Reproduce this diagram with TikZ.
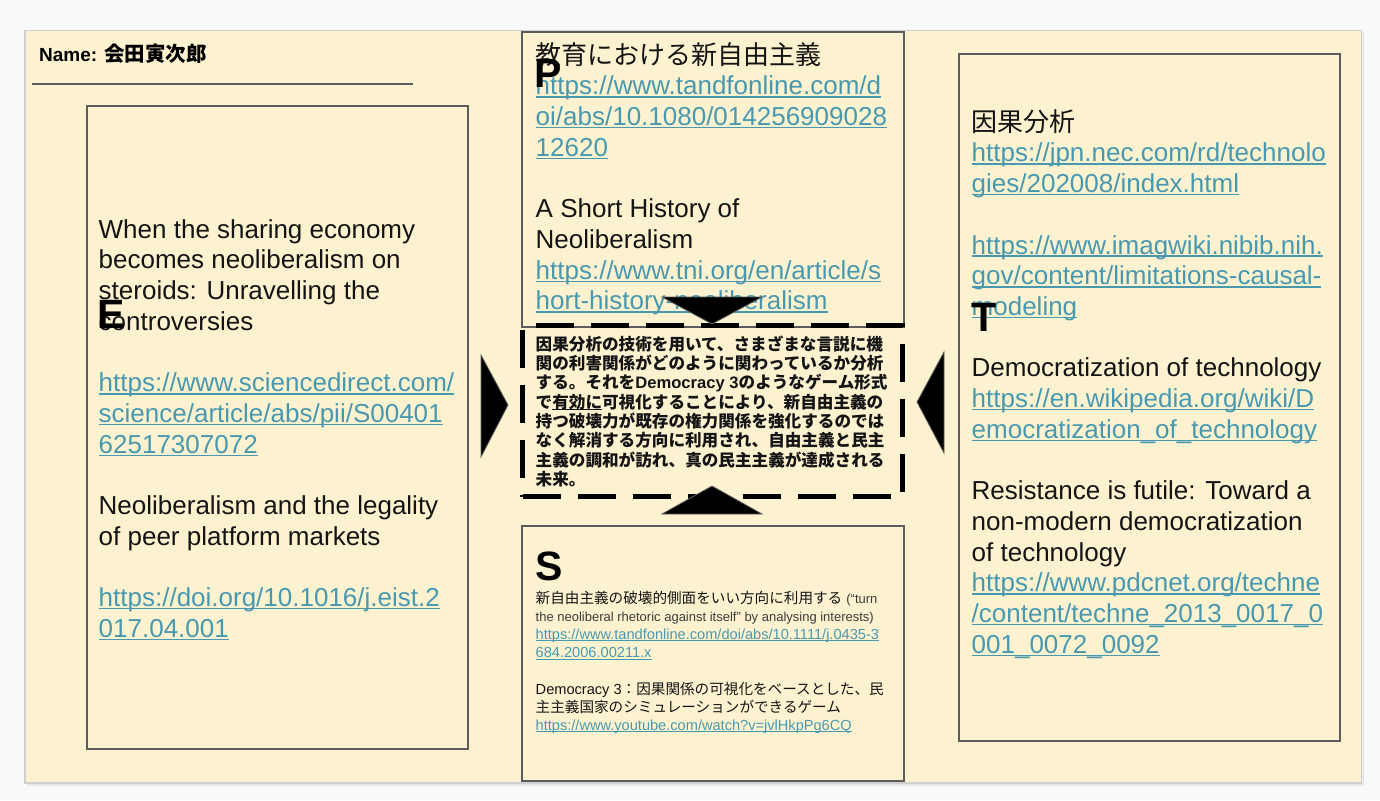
\documentclass[tikz,border=0pt]{standalone}
\usepackage{fontspec}
\setmainfont{Liberation Sans}
\newfontfamily\jpfont{Noto Sans CJK JP}
\newcommand\jj[1]{{\jpfont #1}}
\newcommand\tstr{\rule{0pt}{25pt}}
\newcommand\ulbox[1]{\setbox0=\hbox{#1}\rlap{\rule[-0.11em]{\wd0}{0.055em}}\box0}
\definecolor{linkc}{RGB}{72,153,176}
\definecolor{pagebg}{RGB}{248,249,250}
\definecolor{shadowc}{RGB}{230,231,233}
\definecolor{cream}{RGB}{253,242,208}
\definecolor{creamborder}{RGB}{208,208,208}
\definecolor{boxc}{RGB}{92,92,92}
\definecolor{txtc}{RGB}{20,20,20}
\definecolor{qgray}{RGB}{60,60,60}
\newcommand\lk[1]{{\color{linkc}\ulbox{#1}}}
\newcommand\bigf{\fontsize{26}{30.7}\selectfont\lineskiplimit=-100pt\relax}
\newcommand\midf{\bfseries\fontsize{16.6}{19.3}\selectfont\lineskiplimit=-100pt\relax}
\newcommand\smallf{\fontsize{14.6}{18.2}\selectfont\lineskiplimit=-100pt\relax}
\begin{document}
\begin{tikzpicture}[x=1pt,y=-1pt,
  box/.style={draw=boxc, line width=2pt, inner sep=0pt, anchor=north west},
  dashbox/.style={draw=black, line width=5pt, dash pattern=on 38pt off 17pt, inner sep=0pt, outer sep=0pt, anchor=north west},
  tri/.style={fill=black, draw=boxc, line width=0.8pt, line join=miter},
  txt/.style={anchor=north west, inner sep=0pt, align=left, text=txtc},
  big/.style={txt, font=\bigf},
  mid/.style={txt, font=\midf},
  small/.style={txt, font=\smallf},
  lett/.style={anchor=base west, inner sep=0pt, text=black, font={\bfseries\fontsize{41}{41}\selectfont}}
]
\useasboundingbox (0,0) rectangle (1380,800);
\fill[pagebg] (0,0) rectangle (1380,800);
\fill[shadowc] (26.5,32) rectangle (1364,786);
\draw[draw=creamborder, line width=1.5pt, fill=cream] (25,30.5) rectangle (1361.5,783);

% name and rule
\node[anchor=base west, inner sep=0pt, text=black, font={\bfseries\fontsize{19}{22}\selectfont}] (name) at (39,62) {Name: {\fontsize{20.5}{22}\selectfont\jj{会田寅次郎}}};
\coordinate (ruleA) at (32,84);
\coordinate (ruleB) at (413,84);
\draw[draw=boxc, line width=1.2pt] (ruleA) -- (ruleB);

% boxes
\node[box, minimum width=381pt, minimum height=643pt] (E) at (86,105) {};
\node[box, minimum width=382pt, minimum height=295pt] (P) at (521,31) {};
\node[box, minimum width=381pt, minimum height=687pt] (T) at (958,53) {};
\node[box, minimum width=382pt, minimum height=255pt] (S) at (521,525) {};

% E text
\node[big] (Etext) at (98.5,213) {\tstr When the sharing economy\\
becomes neoliberalism on\\
steroids: Unravelling the\\
controversies\\[30.7pt]
\lk{https://www.sciencedirect.com/}\\
\lk{science/article/abs/pii/S00401}\\
\lk{62517307072}\\[30.7pt]
Neoliberalism and the legality\\
of peer platform markets\\[30.7pt]
\lk{https://doi.org/10.1016/j.eist.2}\\
\lk{017.04.001}};

% P text
\node[big] (Ptext) at (535.5,39) {\tstr\jj{教育における新自由主義}\\
\lk{https://www.tandfonline.com/d}\\
\lk{oi/abs/10.1080/014256909028}\\
\lk{12620}\\[30.7pt]
A Short History of\\
Neoliberalism\\
\lk{https://www.tni.org/en/article/s}\\
\lk{hort-history-neoliberalism}};

% T text
\node[big] (Ttext) at (971.5,106) {\tstr\jj{因果分析}\\
\lk{https://jpn.nec.com/rd/technolo}\\
\lk{gies/202008/index.html}\\[30.7pt]
\lk{https://www.imagwiki.nibib.nih.}\\
\lk{gov/content/limitations-causal-}\\
\lk{modeling}\\[30.7pt]
Democratization of technology\\
\lk{https://en.wikipedia.org/wiki/D}\\
\lk{emocratization\_of\_technology}\\[30.7pt]
Resistance is futile: Toward a\\
non-modern democratization\\
of technology\\
\lk{https://www.pdcnet.org/techne}\\
\lk{/content/techne\_2013\_0017\_0}\\
\lk{001\_0072\_0092}};

% S text
\node[small] (Stext) at (535.5,578) {\tstr\jj{新自由主義の破壊的側面をいい方向に利用する} {\fontsize{13}{18.2}\selectfont\color{qgray}(“turn}\\
{\fontsize{13}{18.2}\selectfont\color{qgray}the neoliberal rhetoric against itself” by analysing interests)}\\
\lk{https://www.tandfonline.com/doi/abs/10.1111/j.0435-3}\\
\lk{684.2006.00211.x}\\[18.2pt]
Democracy 3\jj{：因果関係の可視化をベースとした、民}\\
\jj{主主義国家のシミュレーションができるゲーム}\\
\lk{https://www.youtube.com/watch?v=jvlHkpPg6CQ}};

% central dashed box and its text
\node[dashbox, minimum width=380pt, minimum height=171pt] (D) at (522.5,325.5) {};
\node[mid] (Dtext) at (535.5,325) {\tstr\jj{因果分析の技術を用いて、さまざまな言説に機}\\
\jj{関の利害関係がどのように関わっているか分析}\\
\jj{する。それを}Democracy 3\jj{のようなゲーム形式}\\
\jj{で}\ulbox{\jj{有効に}}\jj{可視化することにより、新自由主義の}\\
\jj{持つ破壊力が既存の権力関係を強化するのでは}\\
\jj{なく解消する方向に利用され、自由主義と民主}\\
\jj{主義の調和が訪れ、真の民主主義が達成される}\\
\jj{未来。}};

% triangles pointing to the centre
\draw[tri] (662,297) -- (762,297) -- (712,324) -- cycle;
\draw[tri] (662,514) -- (762,514) -- (712,486) -- cycle;
\draw[tri] (481,355) -- (508,405) -- (481,457) -- cycle;
\draw[tri] (944,352) -- (917,402) -- (944,453) -- cycle;

% letters
\node[lett] (Pl) at (534,87) {P};
\node[lett] (El) at (97,328) {E};
\node[lett] (Tl) at (971,331) {T};
\node[lett] (Sl) at (535,580) {S};
\end{tikzpicture}
\end{document}
